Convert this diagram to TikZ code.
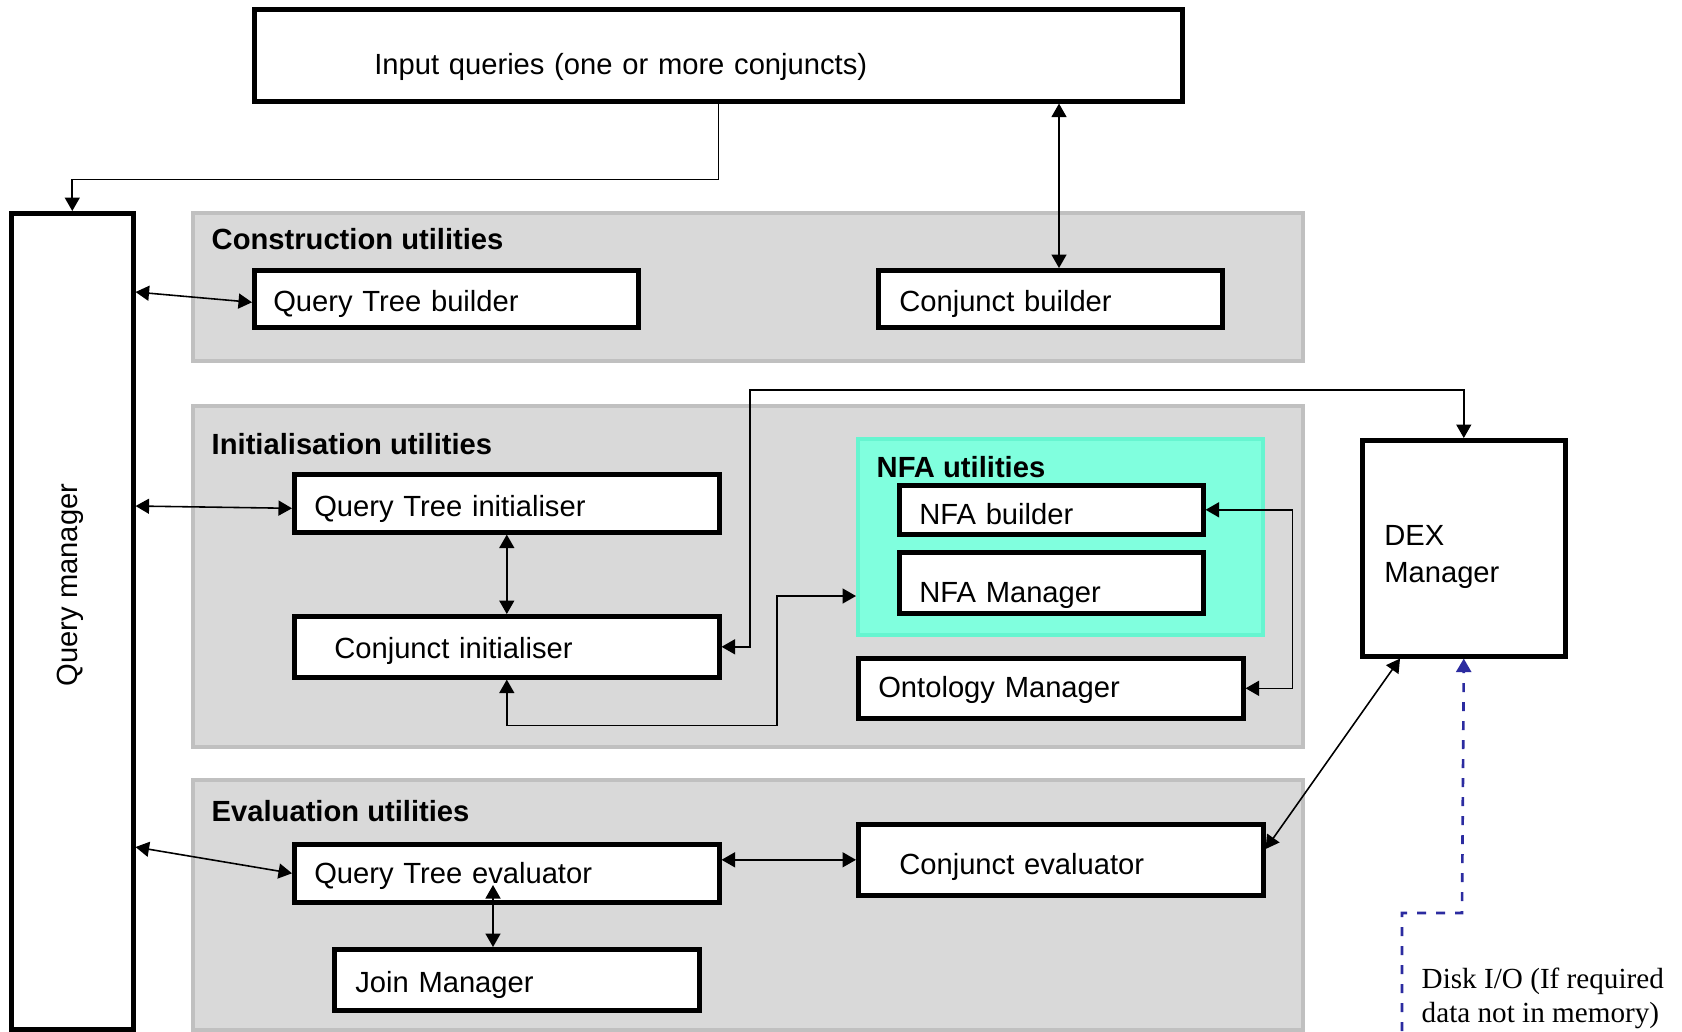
\documentclass[tikz,border=0pt]{standalone}
\usepackage{fontspec}
\setmainfont{Liberation Sans}
\newfontfamily\diskfont{Liberation Serif}
\usepackage{tikz}
\usetikzlibrary{positioning, arrows.meta}
\definecolor{groupgray}{RGB}{217,217,217}
\definecolor{groupedge}{RGB}{192,192,192}
\definecolor{nfafill}{RGB}{128,255,222}
\definecolor{nfaedge}{RGB}{102,245,208}
\definecolor{diskblue}{RGB}{43,43,160}

\begin{document}
\begin{tikzpicture}[x=0.1mm, y=-0.1mm,
        font=\fontsize{8.3}{10.5}\selectfont,
        >={Triangle[length=1.35mm, width=1.5mm]},
        group/.style={draw=groupedge, fill=groupgray, line width=1.1pt, anchor=north west, inner sep=0pt},
        unit/.style={draw, fill=white, line width=1.3pt, anchor=north west, inner ysep=0pt, align=left,
            text height=2.6mm, text depth=0pt},
        title/.style={anchor=west, inner sep=0pt, font=\fontsize{8.3}{10}\selectfont\bfseries},
        conn/.style={line width=0.45pt},
        disk/.style={draw=diskblue, line width=0.75pt, dash pattern=on 0.9mm off 1mm}]
        \useasboundingbox (0,0) rectangle (1682,1031);
        \begin{scope}
            \node[group, minimum width=111mm, minimum height=14.8mm] (cons) at (191,211) {};
            \node[group, minimum width=111mm, minimum height=34.1mm] (init) at (191,404) {};
            \node[group, minimum width=111mm, minimum height=25mm] (eval) at (191,778) {};
            \node[title] (constitle) at (211,239) {Construction utilities};
            \node[title] (inittitle) at (211,444) {Initialisation utilities};
            \node[title] (evaltitle) at (211,811) {Evaluation utilities};
            \node[draw=nfaedge, fill=nfafill, line width=1.1pt, anchor=north west, inner sep=0pt,
                minimum width=40.5mm, minimum height=19.6mm] (nfa) at (856,437) {};
            \node[title] (nfatitle) at (876,467) {NFA utilities};
        \end{scope}
        \begin{scope}
            \node[unit, text width=68.8mm, inner xsep=12mm, minimum height=9.2mm,
                text height=3.8mm] (inp) at (252,7) {Input queries (one or more conjuncts)};
            \node[unit, inner sep=0pt, minimum width=12.2mm, minimum height=81.6mm] (qm) at (9,211) {};
            \node[rotate=90, inner sep=0pt] (qmtext) at (70,585) {Query manager};
            \node[unit, text width=34.6mm, inner xsep=1.9mm, minimum height=5.7mm] (qtb) at (252,268) {Query Tree builder};
            \node[unit, text width=30.2mm, inner xsep=2.1mm, minimum height=5.7mm] (cb) at (876,268) {Conjunct builder};
            \node[unit, text width=38.5mm, inner xsep=2mm, minimum height=5.8mm] (qti) at (292,472) {Query Tree initialiser};
            \node[unit, text width=34.5mm, inner xsep=4mm, minimum height=6.1mm,
                text height=2.3mm] (ci) at (292,614) {Conjunct initialiser};
            \node[unit, text width=26.4mm, inner xsep=2mm, minimum height=4.9mm,
                text height=2.9mm] (nfab) at (897,483) {NFA builder};
            \node[unit, text width=26.4mm, inner xsep=2mm, minimum height=6.1mm,
                text height=4mm] (nfam) at (897,550) {NFA Manager};
            \node[unit, text width=34.5mm, inner xsep=2mm, minimum height=6mm,
                text height=1.9mm] (om) at (856,656) {Ontology Manager};
            \node[unit, text width=38.5mm, inner xsep=2mm, minimum height=5.8mm,
                text height=2.1mm] (qte) at (292,842) {Query Tree evaluator};
            \node[unit, text width=32.3mm, inner xsep=4.1mm, minimum height=7.1mm,
                text height=2.9mm] (ce) at (856,822) {Conjunct evaluator};
            \node[unit, text width=32.3mm, inner xsep=2.1mm, minimum height=6.1mm] (jm) at (332,947) {Join Manager};
            \node[unit, text width=15.9mm, inner xsep=2.2mm, minimum height=21.6mm,
                text height=2.1mm, text depth=2.7mm] (dex) at (1360,438) {DEX\\Manager};
            \node[anchor=west, align=left, inner sep=0pt, font=\diskfont\fontsize{8.3}{9.6}\selectfont]
                (disktext) at (1421,998) {Disk I/O (If required\\data not in memory)};
        \end{scope}
        \coordinate (cbport) at (1059,268);
        \coordinate (joinport) at (493,885);
        \coordinate (diskend) at (1402,1031);
        \draw[conn, ->] (inp.south) -- ++(0,76) -| (qm.north);
        \draw[conn, <->] (inp.south -| cbport) -- (cbport);
        \draw[conn, <->] (qm.east |- 0,292) -- ([yshift=-0.35mm]qtb.west);
        \draw[conn, <->] (qm.east |- 0,506) -- ([yshift=-0.5mm]qti.west);
        \draw[conn, <->] (qti.south) -- (ci.north);
        \draw[conn, <->] (ci.south) -- ++(0,46) -| (777,596) -- (nfa.west |- 0,596);
        \draw[conn, <->] (ci.east) -| (750,390) -| (dex.north);
        \draw[conn, <->] (nfab.east) -- ++(87,0) |- (om.east);
        \draw[conn, <->] (qm.east |- 0,847) -- (qte.west);
        \draw[conn, <->] (qte.east |- ce.west) -- (ce.west);
        \draw[conn, <->] (joinport) -- (jm.north -| joinport);
        \draw[conn, <->] (ce.east |- 0,849) -- ([xshift=4mm]dex.south west);
        \draw[disk, ->] (diskend) |- (1462,913) -- (dex.south);
    \end{tikzpicture}
\end{document}
